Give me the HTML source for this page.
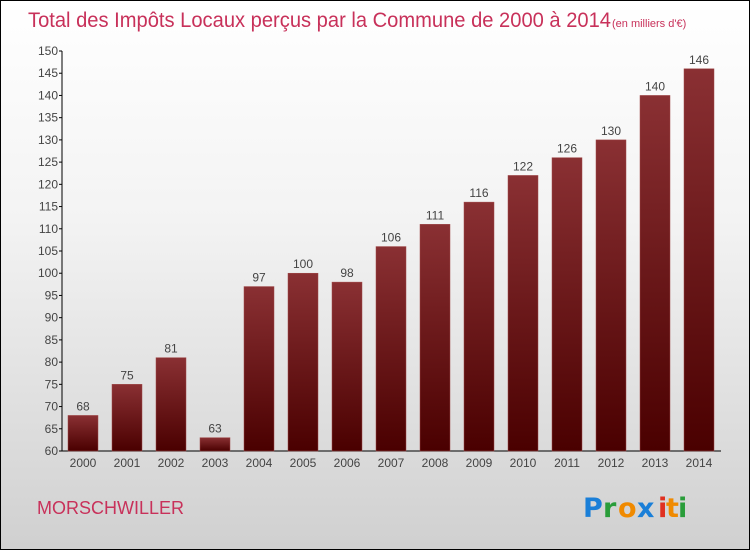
<!DOCTYPE html>
<html><head><meta charset="utf-8"><style>
body{margin:0;}
#wrap{width:748px;height:548px;border:1px solid #000;background:linear-gradient(#fff,#f3f3f3 40%,#d0d0d0);position:relative;overflow:hidden;font-family:"Liberation Sans",sans-serif;}
</style></head><body>
<div id="wrap">
<svg id="chart" width="748" height="548">
<defs><linearGradient id="bg" x1="0" y1="0" x2="0" y2="1"><stop offset="0" stop-color="#8a3033"/><stop offset="1" stop-color="#4a0000"/></linearGradient></defs>
<text x="27" y="26" font-size="21" fill="#c8315a" textLength="583" lengthAdjust="spacingAndGlyphs">Total des Impôts Locaux perçus par la Commune de 2000 à 2014</text>
<text x="611" y="26" font-size="11" fill="#c8315a">(en milliers d'€)</text>
<text x="36" y="513" font-size="18" fill="#c8315a">MORSCHWILLER</text>
<g font-size="27" font-weight="bold" font-family="DejaVu Sans, sans-serif">
<text x="582" y="516" fill="#1a7fd8">P</text><text x="602" y="516" fill="#2a9d3a">r</text><text x="617" y="516" fill="#f08a00">o</text><text x="636" y="516" fill="#1a7fd8">x</text><text x="657" y="516" fill="#e03020">i</text><text x="665" y="516" fill="#f08a00">t</text><text x="677" y="516" fill="#2a9d3a">i</text></g>
<g id="axes"></g><g id="bars"></g>
</svg></div>
<script>
const years=["2000","2001","2002","2003","2004","2005","2006","2007","2008","2009","2010","2011","2012","2013","2014"];
const values=[68,75,81,63,97,100,98,106,111,116,122,126,130,140,146];
const yTicks=[60,65,70,75,80,85,90,95,100,105,110,115,120,125,130,135,140,145,150];
const NS="http://www.w3.org/2000/svg";
const y=v=>450-(v-60)*400/90;
const x=i=>82+i*44;
function mk(t,a,p){const e=document.createElementNS(NS,t);for(const k in a)e.setAttribute(k,a[k]);p.appendChild(e);return e;}
const ax=document.getElementById('axes'),bg=document.getElementById('bars');
const yl=mk('line',{x1:61,y1:y(150),x2:61,y2:450,stroke:'#000'},ax);


const xl=mk('line',{x1:61,y1:450,x2:720,y2:450,stroke:'#000'},ax);


yTicks.forEach(v=>{
 mk('line',{x1:58,x2:61,y1:y(v),y2:y(v),stroke:'#000'},ax);
 const t=mk('text',{x:57,y:y(v)+4,'font-size':12,fill:'#444','text-anchor':'end'},ax);t.textContent=v;
 
 
});
years.forEach((yr,i)=>{
 const r=mk('rect',{x:x(i)-15,y:y(values[i]),width:30,height:450-y(values[i]),fill:'url(#bg)',stroke:'#a04848','stroke-width':0.5},bg);
 
 
 const v=mk('text',{x:x(i),y:y(values[i])-5,'font-size':12,fill:'#444','text-anchor':'middle'},bg);v.textContent=values[i];
 
 
 const t=mk('text',{x:x(i),y:466,'font-size':12,fill:'#444','text-anchor':'middle'},ax);t.textContent=yr;
 
 
});
</script>
</body></html>
